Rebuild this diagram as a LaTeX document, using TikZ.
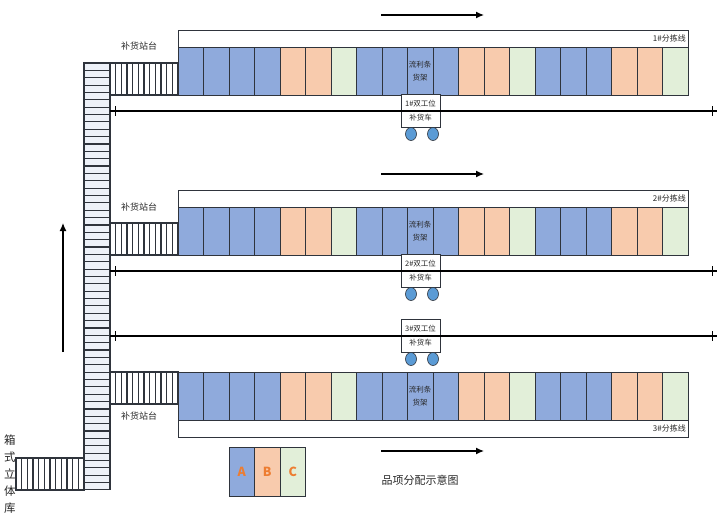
\documentclass[tikz,border=0pt]{standalone}
\usepackage{fontspec}
\setmainfont{Noto Sans CJK SC}
\usetikzlibrary{shapes.geometric, arrows.meta}
\definecolor{barblue}{HTML}{8FAADC}
\definecolor{barorange}{HTML}{F8CBAD}
\definecolor{bargreen}{HTML}{E2EFD9}
\definecolor{wheelblue}{HTML}{5B9BD5}
\definecolor{slatfill}{HTML}{EDF1F8}
\definecolor{edgegray}{HTML}{2F343C}
\definecolor{lettercol}{HTML}{ED7D31}
\tikzset{
    cell/.style={draw=edgegray, line width=0.9pt, minimum width=25.5pt, minimum height=48pt, inner sep=0pt, outer sep=0pt, anchor=north west},
    sorterbox/.style={draw=edgegray, line width=0.9pt, fill=white, minimum width=510pt, minimum height=17pt, inner sep=0pt, outer sep=0pt, anchor=north west},
    cartbox/.style={draw=edgegray, line width=0.9pt, fill=white, minimum width=39pt, minimum height=33pt, inner sep=0pt, outer sep=0pt},
    wheel/.style={draw=edgegray, line width=0.6pt, fill=wheelblue, ellipse, minimum width=11pt, minimum height=13pt, inner sep=0pt},
    slat/.style={draw=edgegray, line width=1.15pt, fill=slatfill},
    rail/.style={black, line width=1.3pt},
    flow/.style={-{Latex[length=8pt, width=7pt]}, black, line width=1.3pt},
    small/.style={font=\fontsize{7.5}{12.5}\selectfont, text=black!85, inner sep=0pt},
    tag/.style={font=\fontsize{8}{9}\selectfont, text=black!85, inner sep=0pt},
    title/.style={font=\fontsize{9}{10}\selectfont, text=black!85, inner sep=0pt}
}

% one row of 20 shelf cells, top edge at #2
\newcommand{\shelfrow}[2]{
    \foreach \i/\col in {0/barblue,1/barblue,2/barblue,3/barblue,4/barorange,5/barorange,6/bargreen,
                         7/barblue,8/barblue,9/barblue,10/barblue,11/barorange,12/barorange,13/bargreen,
                         14/barblue,15/barblue,16/barblue,17/barorange,18/barorange,19/bargreen}
        \node[cell, fill=\col] (shelf#1-\i) at ({178+\i*25.5},#2) {};
    \node[small, align=center] (rack#1) at (420,#2+24) {流利条\\货架};
}
% cart with its rail, rail at height #2
\newcommand{\cartrow}[2]{
    \node[cartbox] (cart#1) at (420.5,#2) {};
    \node[small] (cartup#1) at (420.5,#2-7) {#1\#双工位};
    \node[small] (cartdown#1) at (420.5,#2+7) {补货车};
    \node[wheel] (wheelA#1) at (411,#2+23) {};
    \node[wheel] (wheelB#1) at (433,#2+23) {};
    \coordinate (railstart#1) at (110,#2);
    \coordinate (railend#1) at (717,#2);
    \draw[rail] (railstart#1) -- (railend#1);
    \draw[rail, line width=0.9pt] (115,#2-5) -- (115,#2+5);
    \draw[rail, line width=0.9pt] (712,#2-5) -- (712,#2+5);
}
% horizontal conveyor, left edge #1, top edge #2
\newcommand{\feedbelt}[2]{
    \foreach \k in {0,...,11}
        \draw[slat, fill=white] ({#1+\k*5.67},#2) rectangle ++(5.67,32);
}

\begin{document}
\begin{tikzpicture}[x=1pt, y=-1pt]
    \useasboundingbox (0,0) rectangle (725,520);

    % Main conveyor
    \foreach \k in {0,...,57}
        \draw[slat] (84,{63+\k*7.36}) rectangle ++(26,7.36);
    \feedbelt{16}{458}
    \feedbelt{110}{63}
    \feedbelt{110}{223}
    \feedbelt{110}{372}

    % Line 1
    \node[sorterbox] (sorter1) at (178,30) {};
    \node[tag, anchor=east] (sortertext1) at (686,38.5) {1\#分拣线};
    \shelfrow{1}{47}
    \cartrow{1}{111}

    % Line 2
    \node[sorterbox] (sorter2) at (178,190) {};
    \node[tag, anchor=east] (sortertext2) at (686,198.5) {2\#分拣线};
    \shelfrow{2}{207}
    \cartrow{2}{271}

    % Line 3
    \node[sorterbox] (sorter3) at (178,420) {};
    \node[tag, anchor=east] (sortertext3) at (686,428.5) {3\#分拣线};
    \shelfrow{3}{372}
    \cartrow{3}{336}

    % Station labels
    \node[title] (station1) at (139,46) {补货站台};
    \node[title] (station2) at (139,207) {补货站台};
    \node[title] (station3) at (139,416) {补货站台};

    % Flow arrows
    \coordinate (flowstart1) at (381,15);
    \coordinate (flowend1) at (484,15);
    \coordinate (flowstart2) at (381,174);
    \coordinate (flowend2) at (484,174);
    \coordinate (flowstart3) at (381,451);
    \coordinate (flowend3) at (484,451);
    \coordinate (flowstart4) at (63,352);
    \coordinate (flowend4) at (63,223);
    \draw[flow] (flowstart1) -- (flowend1);
    \draw[flow] (flowstart2) -- (flowend2);
    \draw[flow] (flowstart3) -- (flowend3);
    \draw[flow] (flowstart4) -- (flowend4);

    % Legend
    \foreach \i/\col/\letter in {0/barblue/A,1/barorange/B,2/bargreen/C}
        \node[cell, fill=\col, minimum height=49pt, text=lettercol, font=\fontsize{12.5}{14}\selectfont\bfseries] (legend\letter) at ({229+\i*25.5},447) {\letter};
    \node[font=\fontsize{11}{12}\selectfont, text=black!85, inner sep=0pt] (legendtext) at (420,480) {品项分配示意图};

    % Store label
    \node[font=\fontsize{11.5}{17}\selectfont, text=black!85, align=center, inner sep=0pt] (store) at (10,474) {箱\\式\\立\\体\\库};
\end{tikzpicture}
\end{document}
